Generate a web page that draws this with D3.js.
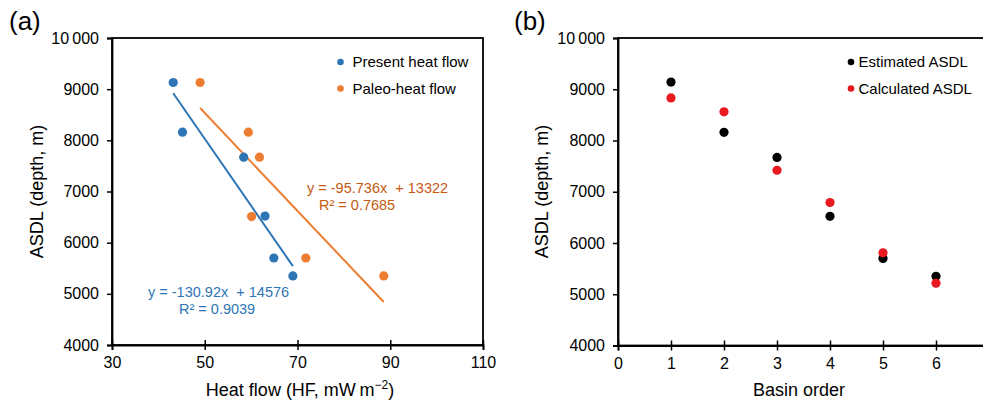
<!DOCTYPE html>
<html>
<head>
    <title>ASDL vs heat flow</title>
    <script src="https://d3js.org/d3.v7.min.js"></script>
    <style>
        body { margin: 0; background: #fff; }
        text { font-family: "Liberation Sans", Arial, sans-serif; }
    </style>
</head>
<body>
    <svg width="983" height="403"></svg>
    <script>
        // panel (a) data
        const presentHF   = [43.2, 45.2, 58.4, 63.0, 64.9, 69.0];
        const presentASDL = [9130, 8160, 7670, 6520, 5700, 5350];
        const paleoHF     = [49.0, 59.4, 61.8, 60.1, 71.8, 88.6];
        const paleoASDL   = [9130, 8160, 7670, 6510, 5700, 5350];
        const fitSlope     = [-130.92, -95.736];
        const fitIntercept = [14576, 13322];
        const fitR2        = ["0.9039", "0.7685"];
        const xTicksA = [30, 50, 70, 90, 110];
        const yTicks  = [4000, 5000, 6000, 7000, 8000, 9000, 10000];

        // panel (b) data
        const basinOrder    = [1, 2, 3, 4, 5, 6];
        const estimatedASDL = [9140, 8160, 7670, 6520, 5700, 5350];
        const calculatedASDL = [8830, 8560, 7420, 6790, 5810, 5215];
        const xTicksB = [0, 1, 2, 3, 4, 5, 6];

        const blue = "#2e75b6", orange = "#ed7d31", red = "#e8191f";
        const svg = d3.select("svg");
        const fmt = d => d >= 10000 ? String(d).replace(/(\d\d)(\d{3})$/, "$1\u2009$2") : d;

        function frame(g, x, y, xt) {
            const [x0, x1] = x.range(), [y0, y1] = y.range();
            g.append("rect").attr("x", x0).attr("y", y1).attr("width", x1 - x0).attr("height", y0 - y1)
             .attr("fill", "none").attr("stroke", "#000").attr("stroke-width", 1.8);
            const ax = g.append("g").attr("transform", `translate(0,${y0})`)
             .call(d3.axisBottom(x).tickValues(xt).tickFormat(d3.format("d")).tickSize(5).tickPadding(4));
            ax.selectAll(".tick line").attr("y1", -5).attr("stroke-width", 1.5);
            ax.selectAll("text").attr("font-size", 16).attr("fill", "#000").attr("dy", "0.9em");
            const ay = g.append("g").attr("transform", `translate(${x0},0)`)
             .call(d3.axisLeft(y).tickValues(yTicks).tickFormat(fmt).tickSize(5).tickPadding(8));
            ay.selectAll(".tick line").attr("stroke-width", 1.5);
            ay.selectAll("text").attr("font-size", 16).attr("fill", "#000");
            g.selectAll(".domain").attr("stroke-width", 1.8);
        }

        function dots(g, xs, ys, x, y, c) {
            g.selectAll(null).data(xs).enter().append("circle")
             .attr("cx", (d, i) => x(d)).attr("cy", (d, i) => y(ys[i]))
             .attr("r", 4.6).attr("fill", c);
        }

        function legend(g, x, y, gap, items) {
            items.forEach((it, i) => {
                g.append("circle").attr("cx", x).attr("cy", y + i * 26.5).attr("r", 3.3).attr("fill", it[1]);
                g.append("text").attr("x", x + gap).attr("y", y + i * 26.5).attr("dy", "0.36em")
                 .attr("font-size", 15).text(it[0]);
            });
        }

        // ---------- panel (a)
        const ga = svg.append("g");
        const xa = d3.scaleLinear().domain([30, 110]).range([112, 483]);
        const ya = d3.scaleLinear().domain([4000, 10000]).range([345, 38]);
        frame(ga, xa, ya, xTicksA);

        // trend lines over each series' x range
        [[presentHF, blue], [paleoHF, orange]].forEach(([xs, c], k) => {
            const ext = d3.extent(xs);
            ga.append("path")
              .attr("d", d3.line().x(d => xa(d)).y(d => ya(fitSlope[k] * d + fitIntercept[k]))(ext))
              .attr("stroke", c).attr("stroke-width", 2).attr("fill", "none");
        });
        dots(ga, presentHF, presentASDL, xa, ya, blue);
        dots(ga, paleoHF, paleoASDL, xa, ya, orange);

        ga.append("text").attr("x", 148).attr("y", 297).attr("font-size", 14.5).attr("fill", blue)
          .attr("xml:space", "preserve").text(`y = ${fitSlope[0]}x  + ${fitIntercept[0]}`);
        ga.append("text").attr("x", 179).attr("y", 314).attr("font-size", 14.5).attr("fill", blue)
          .text(`R² = ${fitR2[0]}`);
        ga.append("text").attr("x", 307).attr("y", 193).attr("font-size", 14.5).attr("fill", "#c55a11")
          .attr("xml:space", "preserve").text(`y = ${fitSlope[1]}x  + ${fitIntercept[1]}`);
        ga.append("text").attr("x", 319).attr("y", 210).attr("font-size", 14.5).attr("fill", "#c55a11")
          .text(`R² = ${fitR2[1]}`);

        legend(ga, 340.5, 62, 12, [["Present heat flow", blue], ["Paleo-heat flow", orange]]);

        const xl = ga.append("text").attr("x", 300).attr("y", 396).attr("text-anchor", "middle").attr("font-size", 18);
        xl.append("tspan").text("Heat flow (HF, mW\u2009m");
        xl.append("tspan").attr("dy", -7).attr("font-size", 12).text("\u22122");
        xl.append("tspan").attr("dy", 7).text(")");
        ga.append("text").attr("transform", "translate(43,191.5) rotate(-90)").attr("text-anchor", "middle")
          .attr("font-size", 18).text("ASDL (depth, m)");
        ga.append("text").attr("x", 9).attr("y", 30).attr("font-size", 26).text("(a)");

        // ---------- panel (b)
        const gb = svg.append("g");
        const xb = d3.scaleLinear().domain([0, 7]).range([618, 989]);
        const yb = d3.scaleLinear().domain([4000, 10000]).range([345.5, 38]);
        frame(gb, xb, yb, xTicksB);
        dots(gb, basinOrder, estimatedASDL, xb, yb, "#000");
        dots(gb, basinOrder, calculatedASDL, xb, yb, red);
        legend(gb, 851, 62, 7.5, [["Estimated ASDL", "#000"], ["Calculated ASDL", red]]);

        gb.append("text").attr("x", 799).attr("y", 396).attr("text-anchor", "middle").attr("font-size", 18)
          .text("Basin order");
        gb.append("text").attr("transform", "translate(548,191.5) rotate(-90)").attr("text-anchor", "middle")
          .attr("font-size", 18).text("ASDL (depth, m)");
        gb.append("text").attr("x", 514).attr("y", 30).attr("font-size", 26).text("(b)");
    </script>
</body>
</html>
